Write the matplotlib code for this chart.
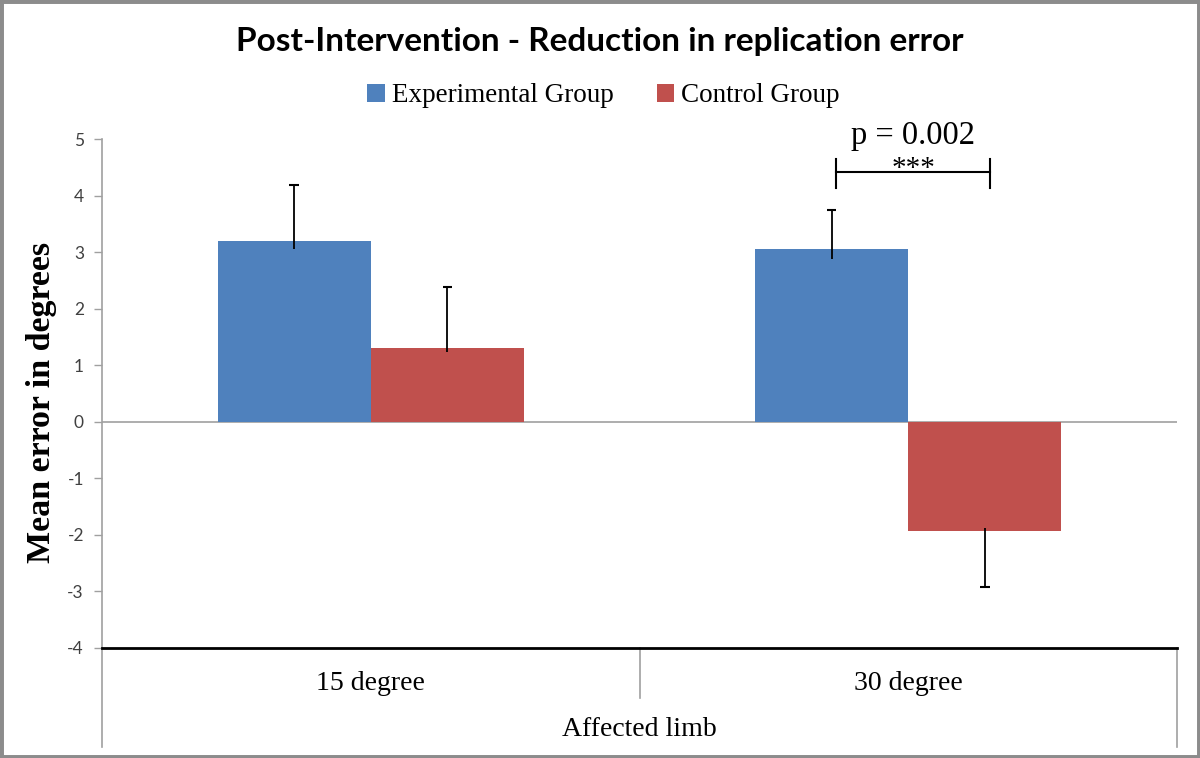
import matplotlib
matplotlib.use("Agg")
import matplotlib.pyplot as plt
from matplotlib.patches import Rectangle, Patch
from matplotlib.lines import Line2D
import numpy as np

categories = ["15 degree", "30 degree"]
series_names = ["Experimental Group", "Control Group"]
experimental = [3.2, 3.06]
control = [1.31, -1.93]
exp_err = [0.99, 0.69]        # error bar extent (away from zero)
ctrl_err = [1.08, -1.0]
exp_overlap = [0.14, 0.18]    # small part of whisker inside bar
ctrl_overlap = [0.07, 0.06]
yticks = [-4, -3, -2, -1, 0, 1, 2, 3, 4, 5]
title = "Post-Intervention - Reduction in replication error"
xlabel = "Affected limb"
ylabel = "Mean error in degrees"
p_text = "p = 0.002"
stars = "***"

blue = "#4F81BD"
red = "#C0504D"

fig = plt.figure(figsize=(12, 7.58), dpi=100)
ax = fig.add_axes([102/1200, 1-648/758, 1075/1200, 509/758])

x = np.arange(len(categories))
w = 0.285
ax.bar(x - w/2, experimental, w, color=blue, zorder=2)
ax.bar(x + w/2, control, w, color=red, zorder=2)

# error whiskers
for xi, v, e, o in zip(x - w/2, experimental, exp_err, exp_overlap):
    s = np.sign(e)
    ax.vlines(xi, v - s*o, v + e, color="black", lw=1.3, zorder=3)
    ax.hlines(v + e, xi - 0.009, xi + 0.009, color="black", lw=1.5, zorder=3)
for xi, v, e, o in zip(x + w/2, control, ctrl_err, ctrl_overlap):
    s = np.sign(e)
    ax.vlines(xi, v - s*o, v + e, color="black", lw=1.3, zorder=3)
    ax.hlines(v + e, xi - 0.009, xi + 0.009, color="black", lw=1.5, zorder=3)

ax.set_xlim(-0.5, 1.5)
ax.set_ylim(-4, 5)
ax.set_yticks(yticks)
ax.set_yticklabels([str(t) for t in yticks], fontfamily="Lato", fontsize=12.5, color="#404040")
ax.tick_params(axis="y", direction="out", length=6, color="#a0a0a0", width=1, pad=7)
ax.set_xticks([])

for s in ["top", "right"]:
    ax.spines[s].set_visible(False)
ax.spines["left"].set_color("#a0a0a0")
ax.spines["left"].set_linewidth(1.2)
ax.spines["bottom"].set_color("black")
ax.spines["bottom"].set_linewidth(2)
ax.axhline(0, color="#a0a0a0", lw=1.2, zorder=1)

# category axis extension lines
kw = dict(transform=ax.transAxes, clip_on=False, color="#a0a0a0", lw=1.2)
ax.add_line(Line2D([0, 0], [0, -0.195], **kw))
ax.add_line(Line2D([1, 1], [0, -0.195], **kw))
ax.add_line(Line2D([0.5, 0.5], [0, -0.098], **kw))

for xi, c in zip(x, categories):
    ax.text(xi, -0.069, c, transform=ax.get_xaxis_transform(), ha="center", va="center",
            fontfamily="Liberation Serif", fontsize=20)
ax.text(0.5, -0.16, xlabel, transform=ax.transAxes, ha="center", va="center",
        fontfamily="Liberation Serif", fontsize=20)

ax.set_ylabel(ylabel, fontfamily="Liberation Serif", fontweight="bold", fontsize=24.5)
ax.yaxis.set_label_coords(-0.042, 0.483)

# significance bracket
bx0 = x[1] - w/2 + 0.008
bx1 = x[1] + w/2 + 0.01
yb = 4.41
ax.plot([bx0, bx1], [yb, yb], color="black", lw=1.5, clip_on=False)
ax.plot([bx0, bx0], [yb - 0.27, yb + 0.24], color="black", lw=1.5, clip_on=False)
ax.plot([bx1, bx1], [yb - 0.27, yb + 0.24], color="black", lw=1.5, clip_on=False)
ax.text((bx0 + bx1)/2, 4.35, stars, ha="center", va="baseline", fontfamily="Liberation Serif", fontsize=21)
ax.text((bx0 + bx1)/2, 5.05, p_text, ha="center", va="center", fontfamily="Liberation Serif", fontsize=23.5)

fig.text(0.5, 1-41/758, title, ha="center", va="center", fontfamily="Lato", fontweight="bold", fontsize=24)

handles = [Patch(facecolor=blue), Patch(facecolor=red)]
fig.legend(handles, series_names, loc="center", bbox_to_anchor=(0.503, 1-96/758), ncol=2,
           frameon=False, prop={"family": "Liberation Serif", "size": 19.5},
           handlelength=0.65, handleheight=0.65, handletextpad=0.25, columnspacing=1.6)

fig.patches.append(Rectangle((0, 0), 1, 1, transform=fig.transFigure, fill=False,
                             edgecolor="#8c8c8c", lw=5))

fig.savefig("out.png", dpi=100)
